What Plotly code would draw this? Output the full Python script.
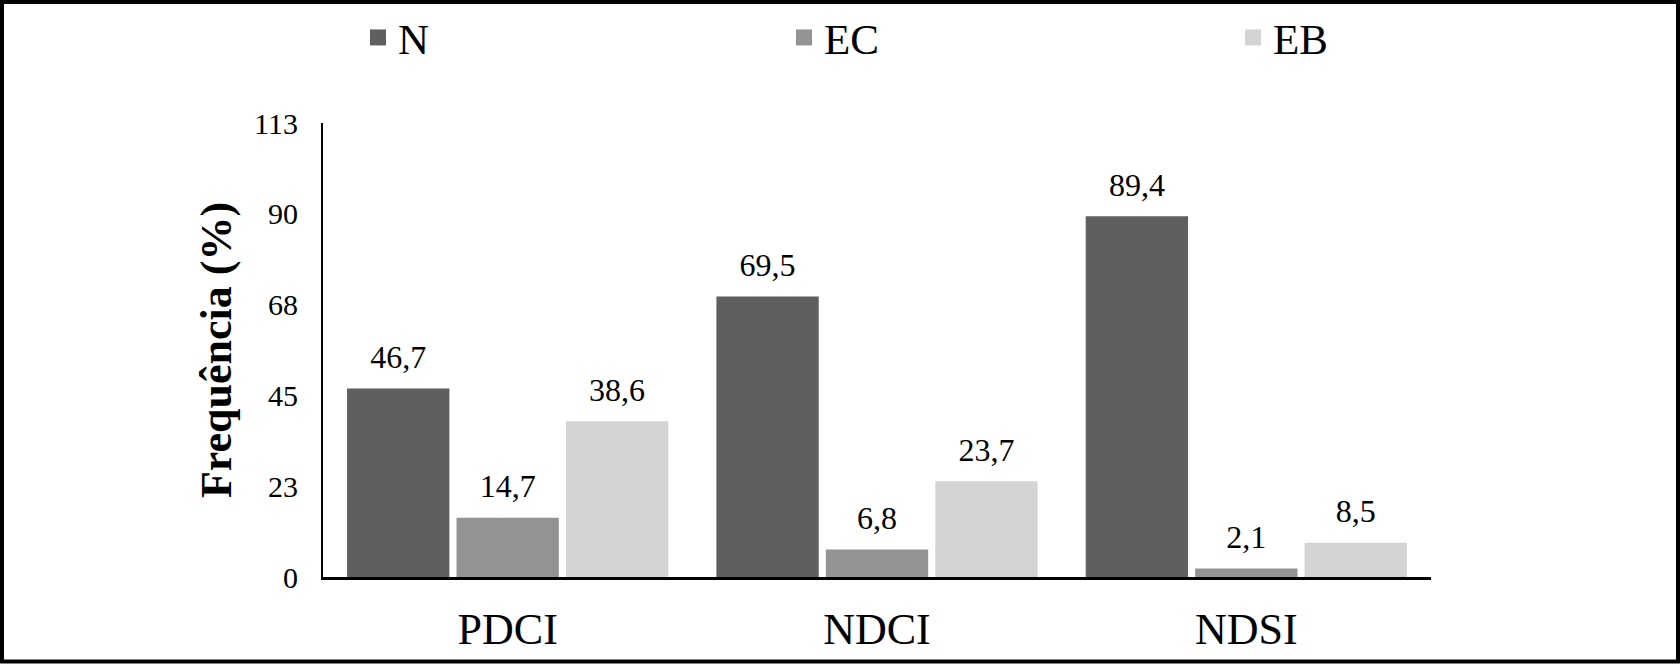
import plotly.graph_objects as go

categories = ["PDCI", "NDCI", "NDSI"]
series_names = ["N", "EC", "EB"]
values_N = [46.7, 69.5, 89.4]
values_EC = [14.7, 6.8, 2.1]
values_EB = [38.6, 23.7, 8.5]
tick_values = [0, 22.5, 45, 67.5, 90, 112.5]
tick_labels = ["0", "23", "45", "68", "90", "113"]
colors = ["#5f5f5f", "#939393", "#d5d4d5"]
legend_widths = [381, 404, 100]
LABEL_GAP = 2.6  # visual gap (axis units) between bar top and its value label

FONT = "Liberation Serif"
W, H = 1680, 664
ML, MR, MT, MB = 323, 249, 123, 87

fig = go.Figure()
all_values = [values_N, values_EC, values_EB]
for name, vals, col in zip(series_names, all_values, colors):
    fig.add_trace(go.Bar(
        x=categories, y=vals, name=name, offsetgroup=name,
        marker=dict(color=col, line=dict(width=0)),
        showlegend=False,
    ))
    # value labels, sitting a little above each bar
    fig.add_trace(go.Bar(
        x=categories, y=[LABEL_GAP] * len(vals), base=vals, offsetgroup=name,
        marker=dict(color="rgba(0,0,0,0)", line=dict(width=0)),
        text=[f"{v:.1f}".replace(".", ",") for v in vals],
        textposition="outside", cliponaxis=False, constraintext="none",
        textfont=dict(family=FONT, size=32, color="black"),
        showlegend=False, hoverinfo="skip",
    ))
for name, col, lw in zip(series_names, colors, legend_widths):
    fig.add_trace(go.Scatter(
        x=[None], y=[None], mode="markers", name=name,
        marker=dict(symbol="square", size=16, color=col),
        legendwidth=lw, showlegend=True,
    ))

# outer frame in paper coordinates
pw, ph = W - ML - MR, H - MT - MB
def px2paper_x(px):
    return (px - ML) / pw
def py2paper_y(py):
    return (H - MB - py) / ph

fig.add_shape(type="rect", xref="paper", yref="paper",
              x0=px2paper_x(2), x1=px2paper_x(W - 2),
              y0=py2paper_y(H - 2.5), y1=py2paper_y(2),
              line=dict(color="black", width=4), fillcolor="rgba(0,0,0,0)", layer="above")

fig.update_layout(
    width=W, height=H,
    margin=dict(l=ML, r=MR, t=MT, b=MB, autoexpand=False),
    paper_bgcolor="white", plot_bgcolor="white",
    barmode="group", bargap=0.111, bargroupgap=0.065,
    font=dict(family=FONT, color="black"),
    legend=dict(orientation="h", xref="container", yref="container",
                x=358 / W, xanchor="left", y=1 - 3 / H, yanchor="top",
                font=dict(family=FONT, size=43, color="black"),
                itemclick=False, bgcolor="rgba(0,0,0,0)"),
    xaxis=dict(showline=True, linecolor="black", linewidth=3, showgrid=False,
               ticks="", tickfont=dict(family=FONT, size=44, color="black"),
               ticklabelstandoff=11, fixedrange=True, zeroline=False),
    yaxis=dict(range=[0, 112.5], tickvals=tick_values, ticktext=tick_labels,
               showline=True, linecolor="black", linewidth=2, showgrid=False,
               ticks="", tickfont=dict(family=FONT, size=30, color="black"),
               ticklabelstandoff=17, zeroline=False,
               title=dict(text="<b>Frequência (%)</b>", standoff=9,
                          font=dict(family=FONT, size=44, color="black"))),
)

fig.write_html("out.html", config={"displayModeBar": False},
               post_script="document.body.style.margin='0';")
